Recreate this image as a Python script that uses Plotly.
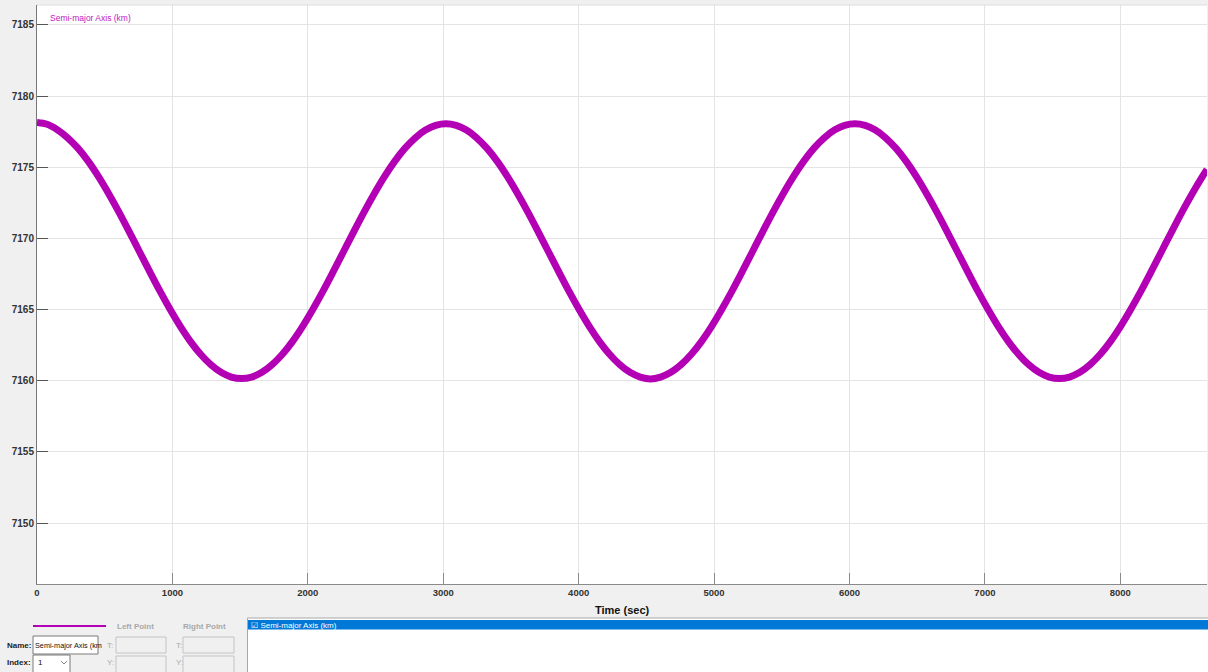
import plotly.graph_objects as go

# ---- data ----
time_sec = [0, 75.5, 151, 226.5, 302, 377.5, 453, 528.5, 604, 679.5,
            755, 830.5, 906, 981.5, 1057, 1132.5, 1208, 1283.5, 1359, 1434.5,
            1510, 1585.5, 1661, 1736.5, 1812, 1887.5, 1963, 2038.5, 2114, 2189.5,
            2265, 2340.5, 2416, 2491.5, 2567, 2642.5, 2718, 2793.5, 2869, 2944.5,
            3020, 3095.5, 3171, 3246.5, 3322, 3397.5, 3473, 3548.5, 3624, 3699.5,
            3775, 3850.5, 3926, 4001.5, 4077, 4152.5, 4228, 4303.5, 4379, 4454.5,
            4530, 4605.5, 4681, 4756.5, 4832, 4907.5, 4983, 5058.5, 5134, 5209.5,
            5285, 5360.5, 5436, 5511.5, 5587, 5662.5, 5738, 5813.5, 5889, 5964.5,
            6040, 6115.5, 6191, 6266.5, 6342, 6417.5, 6493, 6568.5, 6644, 6719.5,
            6795, 6870.5, 6946, 7021.5, 7097, 7172.5, 7248, 7323.5, 7399, 7474.5,
            7550, 7625.5, 7701, 7776.5, 7852, 7927.5, 8003, 8078.5, 8154, 8229.5,
            8305, 8380.5, 8456, 8531.5, 8607, 8640]
semi_major_km = [7178.15, 7178.02, 7177.63, 7177.07, 7176.34, 7175.43, 7174.36, 7173.16, 7171.87, 7170.50,
                 7169.10, 7167.70, 7166.33, 7165.04, 7163.84, 7162.77, 7161.86, 7161.13, 7160.59, 7160.26,
                 7160.15, 7160.26, 7160.59, 7161.13, 7161.86, 7162.77, 7163.84, 7165.04, 7166.33, 7167.70,
                 7169.10, 7170.50, 7171.87, 7173.16, 7174.36, 7175.43, 7176.34, 7177.07, 7177.61, 7177.94,
                 7178.05, 7177.94, 7177.61, 7177.07, 7176.34, 7175.43, 7174.36, 7173.16, 7171.87, 7170.50,
                 7169.10, 7167.70, 7166.33, 7165.04, 7163.84, 7162.77, 7161.86, 7161.13, 7160.59, 7160.26,
                 7160.12, 7160.26, 7160.59, 7161.13, 7161.86, 7162.77, 7163.84, 7165.04, 7166.33, 7167.70,
                 7169.10, 7170.50, 7171.87, 7173.16, 7174.36, 7175.43, 7176.34, 7177.07, 7177.61, 7177.94,
                 7178.05, 7177.94, 7177.61, 7177.07, 7176.34, 7175.43, 7174.36, 7173.16, 7171.87, 7170.50,
                 7169.10, 7167.70, 7166.33, 7165.04, 7163.84, 7162.77, 7161.86, 7161.13, 7160.59, 7160.26,
                 7160.15, 7160.26, 7160.59, 7161.13, 7161.86, 7162.77, 7163.84, 7165.04, 7166.33, 7167.70,
                 7169.10, 7170.50, 7171.87, 7173.16, 7174.36, 7174.85]
x_ticks = [0, 1000, 2000, 3000, 4000, 5000, 6000, 7000, 8000]
y_ticks = [7150, 7155, 7160, 7165, 7170, 7175, 7180, 7185]
series_name = "Semi-major Axis (km)"
x_title = "Time (sec)"

LINE_COLOR = "#b400b4"
FONT = "Liberation Sans, Arial, DejaVu Sans"

FW, FH = 1208, 672
L, R, T, B = 37, 1, 5, 88
PW, PH = FW - L - R, FH - T - B


def px(x):
    return (x - L) / PW


def py(y):
    return (FH - B - y) / PH


fig = go.Figure()
fig.add_trace(go.Scatter(
    x=time_sec, y=semi_major_km, mode="lines", name=series_name,
    line=dict(color=LINE_COLOR, width=7, shape="spline", smoothing=1.0),
    showlegend=False, hoverinfo="x+y",
))

shapes = []
annotations = []


def rect(x0, y0, x1, y1, fill, line, lw=1):
    shapes.append(dict(type="rect", xref="paper", yref="paper",
                       x0=px(x0), x1=px(x1), y0=py(y0), y1=py(y1),
                       fillcolor=fill, line=dict(color=line, width=lw), layer="above"))


def text(x, y, s, size=8, color="#222", anchor="left", bold=False):
    annotations.append(dict(xref="paper", yref="paper", x=px(x), y=py(y), text=s,
                            showarrow=False, xanchor=anchor, yanchor="middle",
                            font=dict(family=FONT, size=size, color=color,
                                      weight="bold" if bold else "normal")))


# plot top border
shapes.append(dict(type="line", xref="paper", yref="paper", x0=0, x1=1, y0=1, y1=1,
                   line=dict(color="#dcdcdc", width=1)))

# legend label in plot
text(48, 18, series_name, size=8.5, color="#c020c0")

# x-axis title
text(622, 610, x_title, size=11, color="#111", anchor="center", bold=True)

# bottom panel: line sample
shapes.append(dict(type="line", xref="paper", yref="paper", x0=px(33), x1=px(106),
                   y0=py(626), y1=py(626), line=dict(color=LINE_COLOR, width=2)))
text(135, 626, "Left Point", size=8, color="#a8a8a8", anchor="center", bold=True)
text(204, 626, "Right Point", size=8, color="#a8a8a8", anchor="center", bold=True)

# Name row
text(5, 645, "Name:", size=8, color="#222", bold=True)
rect(33, 636, 98, 654, "white", "#7a7a7a")
text(33, 645, "Semi-major Axis (km", size=7.3, color="#111")
text(105, 645, "T:", size=8, color="#aaaaaa")
rect(116, 637, 166, 653, "#f0f0f0", "#c4c4c4")
text(174, 645, "T:", size=8, color="#aaaaaa")
rect(183, 637, 234, 653, "#f0f0f0", "#c4c4c4")

# Index row
text(5, 663, "Index:", size=8, color="#222", bold=True)
rect(33, 655, 70, 673, "white", "#7a7a7a")
text(36, 663, "1", size=8, color="#111")
shapes.append(dict(type="path", xref="paper", yref="paper",
                   path="M {} {} L {} {} L {} {}".format(px(61), py(661), px(64), py(664), px(67), py(661)),
                   line=dict(color="#888", width=1)))
text(105, 663, "Y:", size=8, color="#aaaaaa")
rect(116, 656, 166, 673, "#f0f0f0", "#c4c4c4")
text(174, 663, "Y:", size=8, color="#aaaaaa")
rect(183, 656, 234, 673, "#f0f0f0", "#c4c4c4")

# list box
rect(247.5, 618, 1209, 673, "white", "#a8a8a8")
rect(248, 620, 1209, 629.5, "#0078d7", "#0078d7", lw=0)
text(249, 625, "\u2611 " + series_name, size=8, color="white")

fig.update_layout(
    width=FW, height=FH,
    margin=dict(l=L, r=R, t=T, b=B, pad=0),
    paper_bgcolor="#f0f0f0", plot_bgcolor="white",
    font=dict(family=FONT, color="#333"),
    shapes=shapes, annotations=annotations,
    showlegend=False,
)
fig.update_xaxes(
    range=[0, 8640], tickvals=x_ticks, ticktext=[str(v) for v in x_ticks],
    showgrid=True, gridcolor="#e4e4e4", gridwidth=1,
    ticks="inside", ticklen=11, tickcolor="#8a8a8a", tickwidth=1,
    showline=True, linecolor="#8a8a8a", linewidth=1,
    tickfont=dict(family=FONT, size=9.5, color="#333", weight="bold"),
    zeroline=False,
)
fig.update_yaxes(
    range=[7145.72, 7186.40], tickvals=y_ticks, ticktext=[str(v) for v in y_ticks],
    showgrid=True, gridcolor="#e4e4e4", gridwidth=1,
    ticks="inside", ticklen=11, tickcolor="#555", tickwidth=1,
    showline=True, linecolor="#777", linewidth=1,
    tickfont=dict(family=FONT, size=10, color="#333", weight="bold"),
    zeroline=False,
)

fig.write_html("out.html", config={"displayModeBar": False},
               post_script="document.body.style.margin='0';document.body.style.overflow='hidden';")
